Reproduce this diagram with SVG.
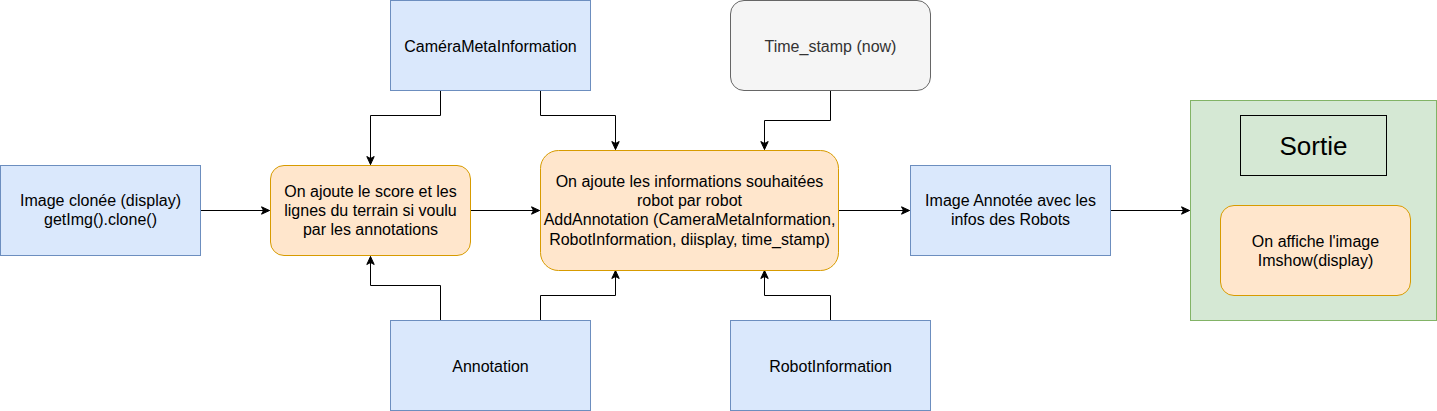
<svg xmlns="http://www.w3.org/2000/svg" width="1437" height="411" viewBox="0 0 1437 411">
<defs>
<marker id="arr" markerUnits="userSpaceOnUse" markerWidth="10" markerHeight="10" viewBox="0 0 10 10" refX="9" refY="5" orient="auto">
<path d="M1,1.3 L9,5 L1,8.7 L3,5 Z" fill="#000" stroke="#000" stroke-width="1"/>
</marker>
</defs>
<style>
.blue{fill:#dae8fc;stroke:#6c8ebf;stroke-width:1}
.orange{fill:#ffe6cc;stroke:#d79b00;stroke-width:1}
.grey{fill:#f5f5f5;stroke:#666666;stroke-width:1}
.green{fill:#d5e8d4;stroke:#82b366;stroke-width:1}
.plain{fill:none;stroke:#000;stroke-width:1}
text{font-family:"Liberation Sans",Arial,sans-serif;font-size:16px;fill:#000;text-anchor:middle}
.edge{fill:none;stroke:#000;stroke-width:1;marker-end:url(#arr)}
</style>
<rect width="1437" height="411" fill="#fff"/>
<g id="connectors">
<path class="edge" d="M200.5,210.5 L269.5,210.5"/>
<path class="edge" d="M440.5,90.5 L440.5,115.5 L370.5,115.5 L370.5,164.5"/>
<path class="edge" d="M540.5,90.5 L540.5,115.5 L615.5,115.5 L615.5,149.5"/>
<path class="edge" d="M830.5,90.5 L830.5,120.5 L764.5,120.5 L764.5,149.5"/>
<path class="edge" d="M440.5,320.5 L440.5,285.5 L370.5,285.5 L370.5,256.5"/>
<path class="edge" d="M540.5,320.5 L540.5,295.5 L615.5,295.5 L615.5,270.5"/>
<path class="edge" d="M830.5,320.5 L830.5,295.5 L764.5,295.5 L764.5,270.5"/>
<path class="edge" d="M470.5,210.5 L539.5,210.5"/>
<path class="edge" d="M838.5,210.5 L909.5,210.5"/>
<path class="edge" d="M1110.5,210.5 L1189.5,210.5"/>
</g>
<g id="image-clonee">
<rect class="blue" x="0.5" y="165.5" width="200" height="90"/>
<text x="100.5" y="206">Image clonée (display)</text>
<text x="100.5" y="225">getImg().clone()</text>
</g>
<g id="score-lignes">
<rect class="orange" x="270.5" y="165.5" width="200" height="90" rx="13.5" ry="13.5"/>
<text x="370.5" y="197">On ajoute le score et les</text>
<text x="370.5" y="216">lignes du terrain si voulu</text>
<text x="370.5" y="235">par les annotations</text>
</g>
<g id="camera-meta">
<rect class="blue" x="390.5" y="0.5" width="200" height="90"/>
<text x="490.5" y="51.5">CaméraMetaInformation</text>
</g>
<g id="time-stamp">
<rect class="grey" x="730.5" y="0.5" width="200" height="90" rx="13.5" ry="13.5"/>
<text x="830.5" y="51.5" style="fill:#333333">Time_stamp (now)</text>
</g>
<g id="add-annotation">
<rect class="orange" x="540.5" y="150.5" width="298" height="120" rx="18" ry="18"/>
<text x="689.5" y="187">On ajoute les informations souhaitées</text>
<text x="689.5" y="206">robot par robot</text>
<text x="689.5" y="225">AddAnnotation (CameraMetaInformation,</text>
<text x="689.5" y="245">RobotInformation, diisplay, time_stamp)</text>
</g>
<g id="annotation">
<rect class="blue" x="390.5" y="320.5" width="200" height="90"/>
<text x="490.5" y="371.5">Annotation</text>
</g>
<g id="robot-information">
<rect class="blue" x="730.5" y="320.5" width="200" height="90"/>
<text x="830.5" y="371.5">RobotInformation</text>
</g>
<g id="image-annotee">
<rect class="blue" x="910.5" y="165.5" width="200" height="90"/>
<text x="1010.5" y="206">Image Annotée avec les</text>
<text x="1010.5" y="225">infos des Robots</text>
</g>
<g id="sortie-container">
<rect class="green" x="1190.5" y="100.5" width="246" height="220"/>
</g>
<g id="sortie-title">
<rect class="plain" x="1240.5" y="115.5" width="146" height="60"/>
<text x="1313.5" y="154.5" style="font-size:26px">Sortie</text>
</g>
<g id="affiche">
<rect class="orange" x="1220.5" y="205.5" width="190" height="90" rx="13.5" ry="13.5"/>
<text x="1315.5" y="247">On affiche l'image</text>
<text x="1315.5" y="266">Imshow(display)</text>
</g>
</svg>
